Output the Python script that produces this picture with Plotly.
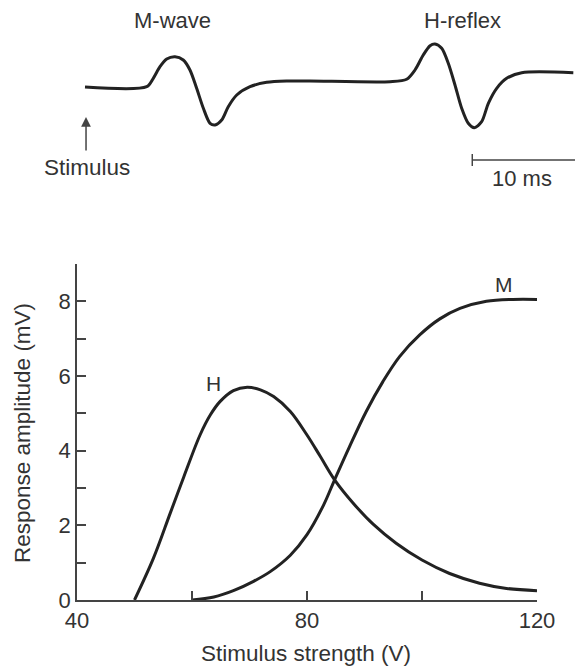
import plotly.graph_objects as go

# ---------------- Data ----------------
# Bottom panel: recruitment curves
H_strength = [50, 53.3, 56.2, 58.6, 61.4, 63.2, 64.9, 67.2, 69.6, 71.9, 74.2, 77.1,
              80.0, 82.3, 84.8, 88.0, 91.5, 95.5, 100, 104.8, 110, 114.7, 120]
H_amplitude = [0, 1.12, 2.32, 3.31, 4.42, 4.96, 5.32, 5.61, 5.70, 5.63, 5.45, 5.05,
               4.42, 3.85, 3.22, 2.6, 2.03, 1.52, 1.07, 0.71, 0.45, 0.31, 0.25]

M_strength = [60, 63.8, 67.2, 70.7, 73.6, 77.1, 80.0, 82.9, 84.8, 87.4, 90.3, 93.2,
              96.1, 99.6, 103.1, 106.6, 111.2, 115.8, 120]
M_amplitude = [0, 0.08, 0.25, 0.5, 0.76, 1.2, 1.75, 2.55, 3.22, 4.11, 5.05, 5.85,
               6.52, 7.1, 7.53, 7.81, 8.0, 8.05, 8.05]

x_tickvals = [40, 60, 80, 100, 120]
x_ticktext = ["40", "", "80", "", "120"]
y_tickvals = [0, 1, 2, 3, 4, 5, 6, 7, 8, 9]
y_ticktext = ["0", "", "2", "", "4", "", "6", "", "8", ""]

# Top panel: EMG trace (time in ms after stimulus, arbitrary amplitude units)
emg_time = [0, 5.99, 6.63, 7.28, 7.93, 8.74, 9.54, 10.19, 10.84, 11.49, 12.14, 12.62,
            13.27, 13.91, 14.73, 16.02, 17.64, 19.58, 21.84, 29.61, 31.23, 32.04,
            32.84, 33.50, 33.98, 34.63, 35.27, 35.92, 36.57, 37.21, 37.80, 38.51,
            39.16, 39.97, 40.94, 42.40, 47.41]
emg_value = [0, 0.03, 0.87, 2.03, 2.80, 3.03, 2.70, 1.70, -0.13, -2.13, -3.63, -3.80,
             -3.30, -1.97, -0.80, 0.03, 0.47, 0.60, 0.60, 0.53, 0.77, 1.70,
             3.20, 4.13, 4.30, 3.87, 2.37, 0.20, -2.13, -3.63, -4.07, -3.47,
             -1.63, -0.13, 0.87, 1.43, 1.43]

scale_bar_start = 37.6   # ms
scale_bar_length = 10    # ms

# ---------------- Figure ----------------
W, H = 575, 668
INK = "#222222"
TEXT = "#333333"
AXIS = "#444444"
FONT = "Liberation Sans, Arial, sans-serif"

fig = go.Figure()

fig.add_trace(go.Scatter(x=H_strength, y=H_amplitude, mode="lines",
                         line=dict(color=INK, width=3, shape="spline", smoothing=1.0),
                         xaxis="x", yaxis="y", hoverinfo="skip"))
fig.add_trace(go.Scatter(x=M_strength, y=M_amplitude, mode="lines",
                         line=dict(color=INK, width=3, shape="spline", smoothing=1.0),
                         xaxis="x", yaxis="y", hoverinfo="skip"))
fig.add_trace(go.Scatter(x=emg_time, y=emg_value, mode="lines",
                         line=dict(color=INK, width=3, shape="spline", smoothing=0.8),
                         xaxis="x2", yaxis="y2", hoverinfo="skip"))

px_per_ms = 10.3
t0_px = 85

fig.update_layout(
    template="none",
    width=W, height=H, autosize=False,
    margin=dict(l=0, r=0, t=0, b=0, pad=0, autoexpand=False),
    paper_bgcolor="white", plot_bgcolor="white",
    showlegend=False,
    font=dict(family=FONT, size=22, color=TEXT),
    xaxis=dict(domain=[77 / W, 537 / W], range=[40, 120], anchor="y",
               showline=True, linecolor=AXIS, linewidth=1.5,
               ticks="inside", ticklen=9, tickwidth=1.5, tickcolor=AXIS,
               tickmode="array", tickvals=x_tickvals, ticktext=x_ticktext,
               tickfont=dict(size=22, color=TEXT), automargin=False,
               showgrid=False, zeroline=False, fixedrange=True),
    yaxis=dict(domain=[68 / H, 404 / H], range=[0, 9], anchor="x",
               showline=True, linecolor=AXIS, linewidth=1.5,
               ticks="inside", ticklen=9, tickwidth=1.5, tickcolor=AXIS,
               tickmode="array", tickvals=y_tickvals, ticktext=y_ticktext,
               tickfont=dict(size=22, color=TEXT), automargin=False,
               showgrid=False, zeroline=False, fixedrange=True),
    xaxis2=dict(domain=[0, 1], range=[-t0_px / px_per_ms, (W - t0_px) / px_per_ms],
                anchor="y2", visible=False, fixedrange=True, automargin=False),
    yaxis2=dict(domain=[(H - 170) / H, (H - 30) / H], range=[-8.3, 5.7],
                anchor="x2", visible=False, fixedrange=True, automargin=False),
)

# Scale bar (10 ms) in the top panel
sb_y = -7.3
fig.add_shape(type="line", xref="x2", yref="y2",
              x0=scale_bar_start, x1=scale_bar_start + scale_bar_length, y0=sb_y, y1=sb_y,
              line=dict(color=AXIS, width=1.5))
fig.add_shape(type="line", xref="x2", yref="y2",
              x0=scale_bar_start, x1=scale_bar_start, y0=sb_y + 0.6, y1=sb_y - 0.6,
              line=dict(color=AXIS, width=1.5))

# Stimulus arrow
fig.add_annotation(xref="x2", yref="y2", x=0.1, y=-3.0, ax=0.1, ay=-6.5,
                   axref="x2", ayref="y2", text="", showarrow=True,
                   arrowhead=2, arrowsize=1.3, arrowwidth=1.5, arrowcolor=AXIS)

def label(text, x, y, xref="paper", yref="paper", size=22, angle=0):
    fig.add_annotation(xref=xref, yref=yref, x=x, y=y, text=text, showarrow=False,
                       xanchor="center", yanchor="middle", textangle=angle,
                       font=dict(family=FONT, size=size, color=TEXT))

label("M-wave", 173 / W, 1 - 20 / H)
label("H-reflex", 463 / W, 1 - 20 / H)
label("Stimulus", 87 / W, 1 - 167 / H, size=22.5)
label("10 ms", 522 / W, 1 - 178 / H)
label("H", 63.7, 5.81, xref="x", yref="y", size=21)
label("M", 114.2, 8.45, xref="x", yref="y", size=21)
label("Response amplitude (mV)", 22 / W, 1 - 433 / H, angle=-90, size=22.5)
label("Stimulus strength (V)", 306 / W, 1 - 653 / H, size=22.5)

fig.write_html("out.html")
